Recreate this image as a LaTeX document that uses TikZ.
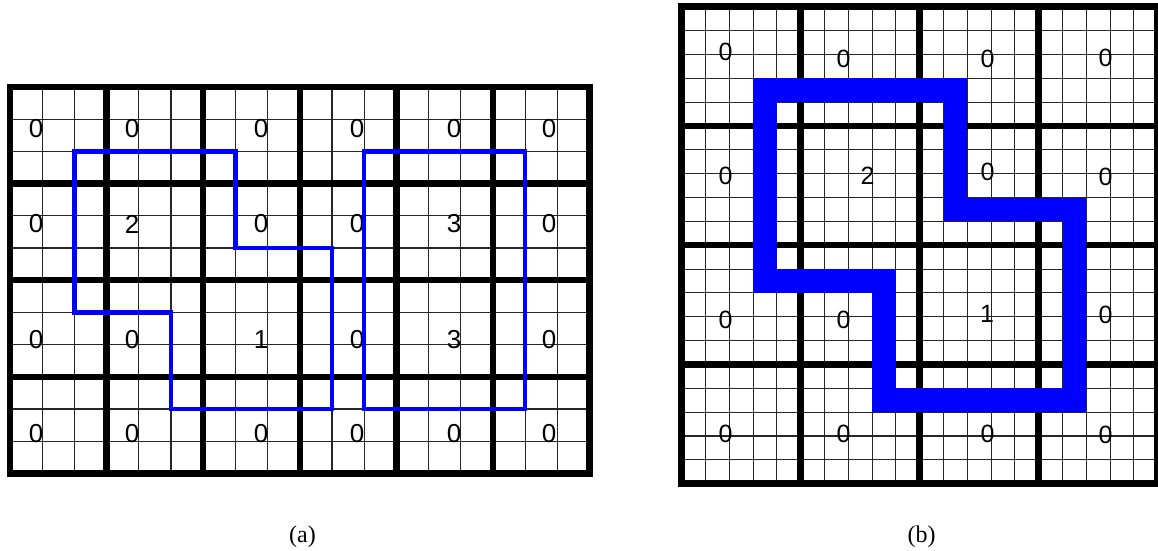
\documentclass[tikz,border=0pt]{standalone}
\usepackage{fontspec}
\setmainfont{Liberation Serif}
\newfontfamily\digitfont{Liberation Sans}
\begin{document}
\begin{tikzpicture}[x=1pt,y=-1pt,
  thinline/.style={draw=black!85, line width=1.1pt},
  thickline/.style={draw=black, line width=6.5pt},
  frameline/.style={draw=black, line width=6.5pt, line join=miter},
  bluea/.style={draw=blue, line width=4.3pt, line join=miter},
  blueb/.style={draw=blue, line width=23.8pt, line join=miter},
  digita/.style={font=\digitfont\fontsize{26}{26}\selectfont, inner sep=0pt},
  digitb/.style={font=\digitfont\fontsize{25}{25}\selectfont, inner sep=0pt},
  captionlabel/.style={font=\fontsize{24}{24}\selectfont, inner sep=0pt}]
\useasboundingbox (0,0) rectangle (1158,550);

% ---------------- (a) ----------------
\def\ax{10}\def\ay{87}\def\as{32.2}
\foreach \i in {0,...,18}
  \draw[thinline] ({\ax+\i*\as},\ay) -- ++(0,{12*\as});
\foreach \j in {0,...,12}
  \draw[thinline] (\ax,{\ay+\j*\as}) -- ++({18*\as},0);
\foreach \i in {3,6,...,15}
  \draw[thickline] ({\ax+\i*\as},\ay) -- ++(0,{12*\as});
\foreach \j in {3,6,9}
  \draw[thickline] (\ax,{\ay+\j*\as}) -- ++({18*\as},0);
\draw[frameline] (\ax,\ay) rectangle ({\ax+18*\as},{\ay+12*\as});

% digits (a)
\foreach \v [count=\k from 0] in {0,0,0,0,0,0, 0,2,0,0,3,0, 0,0,1,0,3,0, 0,0,0,0,0,0}{
  \pgfmathtruncatemacro{\r}{int(\k/6)}
  \pgfmathtruncatemacro{\c}{mod(\k,6)}
  \pgfmathsetmacro{\px}{{36,132,261,357,454,549}[\c]}
  \pgfmathsetmacro{\py}{{129,224,340,434}[\r]}
  \node[digita] (a-\r-\c) at (\px,\py) {\v};
}

% blue regions (a)
\draw[bluea] ({\ax+2*\as},{\ay+2*\as}) -- ({\ax+7*\as},{\ay+2*\as})
  -- ({\ax+7*\as},{\ay+5*\as}) -- ({\ax+10*\as},{\ay+5*\as})
  -- ({\ax+10*\as},{\ay+10*\as}) -- ({\ax+5*\as},{\ay+10*\as})
  -- ({\ax+5*\as},{\ay+7*\as}) -- ({\ax+2*\as},{\ay+7*\as}) -- cycle;
\draw[bluea] ({\ax+11*\as},{\ay+2*\as}) rectangle ({\ax+16*\as},{\ay+10*\as});

% ---------------- (b) ----------------
\def\bx{681.7}\def\by{6.7}\def\bsx{23.8}\def\bsy{23.85}
\foreach \i in {0,...,20}
  \draw[thinline] ({\bx+\i*\bsx},\by) -- ++(0,{20*\bsy});
\foreach \j in {0,...,20}
  \draw[thinline] (\bx,{\by+\j*\bsy}) -- ++({20*\bsx},0);
\foreach \i in {5,10,15}
  \draw[thickline] ({\bx+\i*\bsx},\by) -- ++(0,{20*\bsy});
\foreach \j in {5,10,15}
  \draw[thickline] (\bx,{\by+\j*\bsy}) -- ++({20*\bsx},0);
\draw[frameline] (\bx,\by) rectangle ({\bx+20*\bsx},{\by+20*\bsy});

% digits (b)
\node[digitb] (b-0-0) at (725.5,51.5) {0};
\node[digitb] (b-0-1) at (843.5,58.5) {0};
\node[digitb] (b-0-2) at (987.5,58.5) {0};
\node[digitb] (b-0-3) at (1105.5,57.5) {0};
\node[digitb] (b-1-0) at (725.5,176) {0};
\node[digitb] (b-1-1) at (867.5,176) {2};
\node[digitb] (b-1-2) at (987.5,171.5) {0};
\node[digitb] (b-1-3) at (1105.5,176.5) {0};
\node[digitb] (b-2-0) at (725.5,320) {0};
\node[digitb] (b-2-1) at (843.5,320) {0};
\node[digitb] (b-2-2) at (987,314) {1};
\node[digitb] (b-2-3) at (1105.5,315) {0};
\node[digitb] (b-3-0) at (725.5,433.5) {0};
\node[digitb] (b-3-1) at (843.5,433.5) {0};
\node[digitb] (b-3-2) at (987.5,434) {0};
\node[digitb] (b-3-3) at (1105.5,435) {0};

% blue region (b)
\draw[blueb] ({\bx+3.5*\bsx},{\by+3.5*\bsy}) -- ({\bx+11.5*\bsx},{\by+3.5*\bsy})
  -- ({\bx+11.5*\bsx},{\by+8.5*\bsy}) -- ({\bx+16.5*\bsx},{\by+8.5*\bsy})
  -- ({\bx+16.5*\bsx},{\by+16.5*\bsy}) -- ({\bx+8.5*\bsx},{\by+16.5*\bsy})
  -- ({\bx+8.5*\bsx},{\by+11.5*\bsy}) -- ({\bx+3.5*\bsx},{\by+11.5*\bsy}) -- cycle;

% captions
\node[captionlabel] (capa) at (302.5,537) {(a)};
\node[captionlabel] (capb) at (921.5,537) {(b)};
\end{tikzpicture}
\end{document}
